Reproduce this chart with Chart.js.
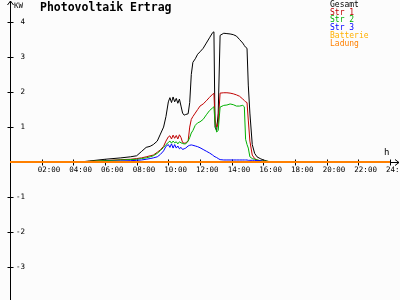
<!DOCTYPE html>
<html>
<head>
<meta charset="utf-8">
<script src="https://cdn.jsdelivr.net/npm/chart.js@4"></script>
<style>
  body { margin: 0; background: #fcfcfc; }
  canvas { display: block; }
</style>
</head>
<body>
<canvas id="pv" width="400" height="300"></canvas>
<script>
// time of day in hours
const hours = [0, 4.4, 5, 6, 7, 7.6, 8.0, 8.3, 8.6, 8.85, 9.05, 9.3, 9.5, 9.7, 9.85, 10.0, 10.1, 10.2, 10.3, 10.4,
    10.5, 10.6, 10.7, 10.8, 10.9, 11.0, 11.1, 11.25, 11.35, 11.45, 11.55, 11.7, 11.85, 12.0, 12.2, 12.4, 12.6, 12.8,
    12.88, 12.95, 13.05, 13.15, 13.27, 13.5, 13.7, 13.9, 14.1, 14.3, 14.5, 14.7, 14.8, 14.88, 14.97, 15.05, 15.15,
    15.3, 15.45, 15.6, 15.8, 16.0, 16.3, 16.5, 24];

const gesamt = [0, 0, 0.03, 0.08, 0.12, 0.15, 0.18, 0.3, 0.42, 0.45, 0.5, 0.6, 0.8, 1.0, 1.3, 1.72, 1.84, 1.7, 1.86, 1.72,
    1.82, 1.68, 1.8, 1.6, 1.4, 1.34, 1.36, 1.38, 1.7, 2.5, 2.85, 2.95, 3.08, 3.15, 3.25, 3.4, 3.55, 3.7,
    3.72, 1.0, 0.9, 1.4, 3.62, 3.68, 3.67, 3.66, 3.64, 3.6, 3.5, 3.4, 3.33, 3.28, 3.25, 2.2, 1.4,
    0.5, 0.25, 0.15, 0.1, 0.06, 0.02, 0, 0];

const str1 = [0, 0, 0.02, 0.04, 0.07, 0.08, 0.1, 0.12, 0.15, 0.18, 0.2, 0.28, 0.35, 0.45, 0.6, 0.72, 0.75, 0.66, 0.77, 0.68,
    0.76, 0.66, 0.78, 0.7, 0.56, 0.54, 0.55, 0.6, 1.0, 1.22, 1.3, 1.4, 1.5, 1.6, 1.66, 1.75, 1.85, 1.94,
    1.96, 1.2, 1.0, 1.1, 1.97, 1.98, 1.98, 1.97, 1.95, 1.92, 1.88, 1.8, 1.76, 1.72, 1.7, 1.2, 0.6,
    0.2, 0.1, 0.06, 0.04, 0.03, 0.01, 0, 0];

const str2 = [0, 0, 0.02, 0.04, 0.06, 0.07, 0.08, 0.1, 0.12, 0.15, 0.18, 0.25, 0.33, 0.42, 0.5, 0.56, 0.6, 0.54, 0.6, 0.55,
    0.58, 0.52, 0.58, 0.55, 0.53, 0.52, 0.52, 0.6, 0.7, 0.83, 0.9, 1.05, 1.12, 1.15, 1.22, 1.35, 1.47, 1.55,
    1.58, 1.1, 0.86, 0.9, 1.57, 1.62, 1.63, 1.66, 1.64, 1.6, 1.6, 1.62, 1.58, 0.65, 0.5, 0.4, 0.15,
    0.1, 0.08, 0.06, 0.04, 0.03, 0.02, 0.01, 0];

const str3 = [0, 0, 0.01, 0.02, 0.03, 0.04, 0.05, 0.06, 0.08, 0.1, 0.12, 0.15, 0.22, 0.32, 0.45, 0.5, 0.42, 0.52, 0.4, 0.5,
    0.4, 0.46, 0.38, 0.42, 0.36, 0.38, 0.4, 0.46, 0.48, 0.49, 0.48, 0.46, 0.44, 0.41, 0.36, 0.31, 0.26, 0.2,
    0.17, 0.15, 0.13, 0.1, 0.07, 0.06, 0.06, 0.06, 0.06, 0.06, 0.06, 0.06, 0.06, 0.06, 0.06, 0.05, 0.05,
    0.05, 0.05, 0.04, 0.04, 0.02, 0.01, 0, 0];

const batterie = [0, 0];
const ladung = [0, 0];
const dayEnds = [0, 24];

const seriesNames = ['Gesamt', 'Str 1', 'Str 2', 'Str 3', 'Batterie', 'Ladung'];
const seriesColors = ['#000000', '#c00000', '#00b000', '#0000ff', '#ffb000', '#ff8000'];

const hourTicks = [2, 4, 6, 8, 10, 12, 14, 16, 18, 20, 22, 24];
const hourLabels = ['02:00', '04:00', '06:00', '08:00', '10:00', '12:00', '14:00', '16:00', '18:00', '20:00', '22:00', '24:00'];
const kwTicks = [-3, -2, -1, 1, 2, 3, 4];

function pts(xs, ys) {
    return xs.map((x, i) => ({x: x, y: ys[i]}));
}

const mono = '"DejaVu Sans Mono", monospace';

const axesPlugin = {
    id: 'axes',
    beforeDatasetsDraw(chart) {
        const c = chart.ctx;
        const xs = chart.scales.x, ys = chart.scales.y;
        const x0 = Math.round(xs.getPixelForValue(0)) + 0.5;
        const y0 = Math.round(ys.getPixelForValue(0)) + 0.5;
        c.save();
        c.strokeStyle = '#000';
        c.lineWidth = 1;
        c.beginPath();
        // y axis with arrow
        c.moveTo(x0, 300); c.lineTo(x0, 1);
        c.moveTo(x0 - 3, 5); c.lineTo(x0, 1); c.lineTo(x0 + 3, 5);
        // x axis with arrow
        c.moveTo(x0, y0); c.lineTo(399, y0);
        c.moveTo(395, y0 - 3); c.lineTo(399, y0); c.lineTo(395, y0 + 3);
        kwTicks.forEach(v => {
            const p = Math.round(ys.getPixelForValue(v)) + 0.5;
            c.moveTo(x0 - 3, p); c.lineTo(x0 + 3, p);
        });
        hourTicks.forEach(h => {
            const p = Math.round(xs.getPixelForValue(h)) + 0.5;
            c.moveTo(p, y0 - 3); c.lineTo(p, y0 + 3);
        });
        c.stroke();
        c.restore();
    },
    afterDraw(chart) {
        const c = chart.ctx;
        const xs = chart.scales.x, ys = chart.scales.y;
        const x0 = xs.getPixelForValue(0);
        const y0 = ys.getPixelForValue(0);
        c.save();
        c.fillStyle = '#000';
        c.textBaseline = 'middle';
        c.font = '7.5px ' + mono;
        c.textAlign = 'left';
        hourTicks.forEach((h, i) => {
            c.fillText(hourLabels[i], xs.getPixelForValue(h) - 4, y0 + 8);
        });
        c.textAlign = 'right';
        kwTicks.forEach(v => {
            c.fillText(String(v), x0 + 15, ys.getPixelForValue(v));
        });
        c.textAlign = 'left';
        c.fillText('KW', x0 + 4, 6);
        c.font = '9px ' + mono;
        c.fillText('h', 384, y0 - 9);
        c.font = 'bold 11.5px ' + mono;
        c.fillText('Photovoltaik Ertrag', 40, 8.5);
        c.font = '8px ' + mono;
        seriesNames.forEach((name, i) => {
            c.fillStyle = seriesColors[i];
            c.fillText(name, 330, 5 + i * 7.7);
        });
        c.restore();
    }
};

const lineStyle = {borderWidth: 1, pointRadius: 0, tension: 0, fill: false};

new Chart(document.getElementById('pv'), {
    type: 'line',
    data: {
        datasets: [
            {label: seriesNames[0], data: pts(hours, gesamt), borderColor: seriesColors[0], order: 5, ...lineStyle},
            {label: seriesNames[1], data: pts(hours, str1), borderColor: seriesColors[1], order: 4, ...lineStyle},
            {label: seriesNames[2], data: pts(hours, str2), borderColor: seriesColors[2], order: 3, ...lineStyle},
            {label: seriesNames[3], data: pts(hours, str3), borderColor: seriesColors[3], order: 2, ...lineStyle},
            {label: seriesNames[4], data: pts(dayEnds, batterie), borderColor: seriesColors[4], order: 1, ...lineStyle, borderWidth: 2},
            {label: seriesNames[5], data: pts(dayEnds, ladung), borderColor: seriesColors[5], order: 0, ...lineStyle, borderWidth: 2}
        ]
    },
    options: {
        responsive: false,
        animation: false,
        layout: {padding: {left: 10, right: 10, top: 0, bottom: 0}},
        scales: {
            x: {type: 'linear', min: 0, max: 24, display: false},
            y: {min: -3.94, max: 4.63, display: false}
        },
        plugins: {
            legend: {display: false},
            title: {display: false},
            tooltip: {enabled: false}
        }
    },
    plugins: [axesPlugin]
});
</script>
</body>
</html>
